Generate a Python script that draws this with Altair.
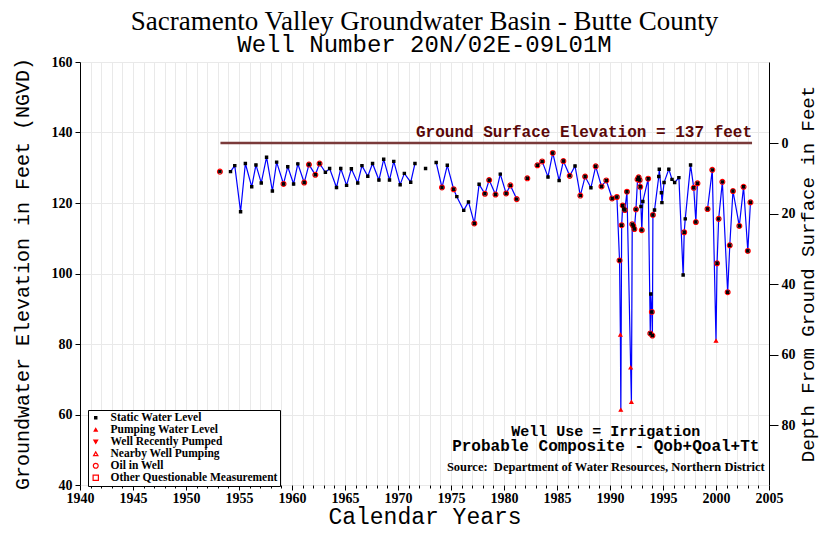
import altair as alt
import pandas as pd

# ---- measurements (decimal year, elevation ft NGVD, code, line segment) ----
# code: S = static level, C = static level flagged with red circle, P = pumping level
years = [
    1953.2,
    1954.2, 1954.6, 1955.15, 1955.6, 1956.2, 1956.6, 1957.1, 1957.6, 1958.15, 1958.55,
    1959.2, 1959.6, 1960.15, 1960.55, 1961.15, 1961.6, 1962.2, 1962.6, 1963.15, 1963.55,
    1964.2, 1964.6, 1965.15, 1965.6, 1966.2, 1966.6, 1967.15, 1967.6, 1968.2, 1968.65,
    1969.2, 1969.6, 1970.2, 1970.6, 1971.2, 1971.6,
    1972.6,
    1973.6, 1974.15, 1974.65, 1975.25, 1975.55, 1976.2, 1976.65, 1977.2, 1977.65, 1978.2,
    1978.6, 1979.2, 1979.65, 1980.2, 1980.6, 1981.2,
    1982.2,
    1983.15, 1983.6, 1984.15, 1984.6, 1985.2, 1985.6, 1986.2, 1986.7, 1987.2, 1987.65,
    1988.2, 1988.65, 1989.2, 1989.65, 1990.2, 1990.65, 1990.9, 1990.98, 1991.02, 1991.1,
    1991.2, 1991.3, 1991.4, 1991.6, 1991.95, 1992.02, 1992.1, 1992.2, 1992.3, 1992.45,
    1992.6, 1992.7, 1992.8, 1992.85, 1992.92, 1993.0, 1993.1, 1993.6, 1993.8, 1993.85,
    1993.95, 1994.0, 1994.05, 1994.2, 1994.6, 1994.65, 1994.85, 1994.9, 1995.1, 1995.55,
    1995.85, 1996.1, 1996.5, 1996.9, 1997.0, 1997.1, 1997.6, 1997.9, 1998.1, 1998.25,
    1999.2, 1999.65, 2000.0, 2000.1, 2000.25, 2000.6, 2001.1, 2001.3, 2001.6, 2002.2,
    2002.6, 2003.0, 2003.25,
]
levels = [
    128.9,
    128.9, 130.6, 117.5, 131.2, 124.6, 130.8, 125.7, 133.0, 123.4, 131.6,
    125.4, 130.3, 125.4, 131.1, 125.8, 130.9, 128.0, 131.2, 128.7, 129.8,
    124.4, 129.8, 125.0, 129.7, 125.7, 130.6, 127.6, 131.2, 126.5, 132.4,
    126.5, 131.8, 125.2, 128.4, 125.9, 131.2,
    129.8,
    131.5, 124.4, 130.7, 123.9, 121.8, 117.9, 120.3, 114.2, 125.3, 122.6,
    126.5, 122.4, 128.2, 122.7, 125.0, 121.1,
    127.0,
    130.7, 131.8, 127.4, 134.2, 126.4, 131.9, 127.7, 130.5, 122.1, 127.5,
    124.3, 130.4, 124.7, 126.4, 121.3, 121.7, 103.7, 82.6, 61.3, 113.7,
    119.3, 118.3, 118.0, 123.2, 73.3, 63.5, 114.0, 113.5, 112.6, 118.2,
    126.7, 127.3, 126.5, 124.6, 119.0, 112.3, 120.4, 126.9, 83.0, 94.2,
    89.1, 82.4, 116.6, 118.0, 127.5, 129.6, 122.9, 120.1, 125.8, 129.6,
    126.7, 125.8, 127.2, 99.6, 111.7, 115.5, 130.8, 124.3, 114.6, 125.6,
    118.3, 129.4, 80.9, 102.9, 115.5, 126.0, 94.7, 108.0, 123.4, 113.5,
    124.6, 106.4, 120.2,
]
codes = [
    "C",
    "S", "S", "S", "S", "S", "S", "S", "S", "S", "S",
    "C", "S", "S", "S", "C", "C", "C", "C", "S", "S",
    "S", "S", "S", "S", "S", "S", "S", "S", "S", "S",
    "S", "S", "S", "S", "S", "S",
    "S",
    "S", "C", "S", "C", "S", "S", "S", "C", "S", "C",
    "C", "C", "S", "C", "C", "C",
    "C",
    "C", "C", "S", "C", "S", "C", "C", "S", "C", "C",
    "S", "C", "C", "C", "C", "C", "C", "P", "P", "C",
    "C", "S", "C", "C", "P", "P", "C", "C", "C", "C",
    "C", "C", "C", "C", "S", "C", "S", "C", "C", "S",
    "C", "C", "C", "S", "S", "S", "S", "S", "S", "S",
    "S", "S", "S", "S", "C", "S", "S", "C", "C", "C",
    "C", "C", "P", "C", "C", "C", "C", "C", "C", "C",
    "C", "C", "C",
]
segments = (
    [0] * 1 + [1] * 36 + [2] * 1 + [3] * 16 + [4] * 1 + [5] * 60 + [6] * 13
)

ground_elev = 137
gse_years = [1953.25, 2003.4]

legend_kinds = ["Static Water Level", "Pumping Water Level", "Well Recently Pumped",
                "Nearby Well Pumping", "Oil in Well", "Other Questionable Measurement"]
kind_shapes = ["square", "triangle-up", "triangle-down", "triangle-up", "circle", "square"]
kind_fill = ["black", "#ff0000", "#ff0000", "transparent", "transparent", "transparent"]
kind_stroke = ["black", "#ff0000", "#ff0000", "#ff0000", "#ff0000", "#ff0000"]
kind_size = [5, 28, 28, 55, 75, 50]

x_ticks = list(range(1940, 2006))
y_ticks = [40, 60, 80, 100, 120, 140, 160]
depth_ticks = [0, 20, 40, 60, 80]

use_text, use_pos = "Well Use = Irrigation", (1989.6, 55.3)
geo_text, geo_pos = "Probable Composite - Qob+Qoal+Tt", (1989.6, 51.0)
source_text = "Source:\u00a0\u00a0Department of Water Resources, Northern District"
source_pos = (1989.6, 45.1)
gse_label = "Ground Surface Elevation = 137 feet"

# ---- tables ----
line_df = pd.DataFrame({"year": years, "value": levels, "seg": segments})

rows = []
for y, v, c in zip(years, levels, codes):
    if c == "C":
        rows.append({"year": y, "value": v, "kind": "Oil in Well"})
for y, v, c in zip(years, levels, codes):
    if c in ("S", "C"):
        rows.append({"year": y, "value": v, "kind": "Static Water Level"})
for y, v, c in zip(years, levels, codes):
    if c == "P":
        rows.append({"year": y, "value": v, "kind": "Pumping Water Level"})
marks_df = pd.DataFrame(rows)


def text_df(t, pos):
    return pd.DataFrame({"year": [pos[0]], "value": [pos[1]], "t": [t]})


gse_df = pd.DataFrame({"year": [gse_years[0]], "year2": [gse_years[1]], "value": [ground_elev]})
gse_text_df = text_df(gse_label, (gse_years[1], ground_elev))
depth_df = pd.DataFrame({"depth": [0]})

# ---- scales / axes ----
xs = alt.Scale(domain=[1940, 2005], nice=False, zero=False)
ys = alt.Scale(domain=[40, 160], nice=False, zero=False)

x_axis = alt.Axis(
    values=x_ticks, format="d",
    labelExpr="datum.value % 5 === 0 ? datum.label : ''",
    labelOverlap=False, labelFlush=False,
    tickSize={"condition": {"test": "datum.value % 5 === 0", "value": 5}, "value": 3},
    tickColor="black", domain=False,
    grid=True, gridColor="#e9e9e9", gridWidth=1,
    labelFont="Liberation Serif", labelFontWeight="bold", labelFontSize=14, labelColor="black",
    labelPadding=1,
    title="Calendar Years", titleFont="Liberation Mono", titleFontSize=23,
    titleFontWeight="normal", titleColor="black", titlePadding=0,
)
y_axis = alt.Axis(
    values=y_ticks, grid=True, gridColor="#e9e9e9", gridWidth=1,
    tickSize=5, tickColor="black", domainColor="black", labelFlush=False,
    labelFont="Liberation Serif", labelFontWeight="bold", labelFontSize=14, labelColor="black",
    labelPadding=3,
    title="Groundwater Elevation in Feet (NGVD)", titleFont="Liberation Mono",
    titleFontSize=20, titleFontWeight="normal", titleColor="black", titlePadding=19,
)

X = alt.X("year:Q", scale=xs, axis=x_axis)
Y = alt.Y("value:Q", scale=ys, axis=y_axis)

leg = alt.Legend(
    title=None, orient="none", legendX=8, legendY=348,
    strokeColor="black", fillColor="white", padding=2,
    labelFont="Liberation Serif", labelFontWeight="bold", labelFontSize=11.5,
    labelColor="black", labelLimit=400, rowPadding=-3, labelOffset=9,
    symbolStrokeWidth=1.2,
)
dom = legend_kinds

line = alt.Chart(line_df).mark_line(color="#0000ff", strokeWidth=1.2).encode(
    x=X, y=Y, detail="seg:N"
)

points = alt.Chart(marks_df).mark_point(opacity=1, strokeWidth=1.2).encode(
    x=X, y=Y,
    shape=alt.Shape("kind:N", scale=alt.Scale(domain=dom, range=kind_shapes), legend=leg),
    fill=alt.Fill("kind:N", scale=alt.Scale(domain=dom, range=kind_fill), legend=leg),
    stroke=alt.Stroke("kind:N", scale=alt.Scale(domain=dom, range=kind_stroke), legend=leg),
    size=alt.Size("kind:N", scale=alt.Scale(domain=dom, range=kind_size), legend=leg),
)

gse = alt.Chart(gse_df).mark_rule(color="#7a3a3a", strokeWidth=2.5).encode(
    x=X, x2="year2:Q", y=Y
)
gse_text = alt.Chart(gse_text_df).mark_text(
    align="right", baseline="alphabetic", dy=-6, font="Liberation Mono",
    fontSize=16, fontWeight="bold", color="#5a0808",
).encode(x=X, y=Y, text="t:N")

use_note = alt.Chart(text_df(use_text, use_pos)).mark_text(
    align="center", baseline="middle", font="Liberation Mono",
    fontSize=15, fontWeight="bold", color="black",
).encode(x=X, y=Y, text="t:N")

geo_note = alt.Chart(text_df(geo_text, geo_pos)).mark_text(
    align="center", baseline="middle", font="Liberation Mono",
    fontSize=16, fontWeight="bold", color="black",
).encode(x=X, y=Y, text="t:N")

source = alt.Chart(text_df(source_text, source_pos)).mark_text(
    align="center", baseline="middle", font="Liberation Serif",
    fontSize=12.5, fontWeight="bold", color="black",
).encode(x=X, y=Y, text="t:N")

main = alt.layer(line, gse, gse_text, points, use_note, geo_note, source)

right = alt.Chart(depth_df).mark_point(opacity=0).encode(
    y=alt.Y(
        "depth:Q",
        scale=alt.Scale(domain=[ground_elev - 160, ground_elev - 40], reverse=True,
                        nice=False, zero=False),
        axis=alt.Axis(
            orient="right", values=depth_ticks, grid=False, tickSize=9,
            tickColor="black", domainColor="black", labelFlush=False,
            labelFont="Liberation Serif", labelFontWeight="bold", labelFontSize=14,
            labelColor="black", labelPadding=3,
            title="Depth From Ground Surface in Feet", titleFont="Liberation Mono",
            titleFontSize=19, titleFontWeight="normal", titleColor="black",
            titleAngle=270, titlePadding=22,
        ),
    )
)

chart = alt.layer(main, right).resolve_scale(y="independent").properties(
    width=689, height=423,
    autosize=alt.AutoSizeParams(type="none"),
    padding={"left": 72, "top": 54, "right": 50, "bottom": 43},
    title=alt.Title(
        text="Sacramento Valley Groundwater Basin - Butte County",
        subtitle="Well Number 20N/02E-09L01M",
        font="Liberation Serif", fontSize=27, fontWeight="normal", color="black",
        subtitleFont="Liberation Mono", subtitleFontSize=24, subtitleColor="black",
        anchor="middle", offset=-3, subtitlePadding=-3,
    ),
).configure_view(stroke="black", strokeDash=[3, 2], strokeWidth=1).configure(
    background="white"
)

chart.save("out.html", embed_options={"renderer": "svg", "actions": False})
